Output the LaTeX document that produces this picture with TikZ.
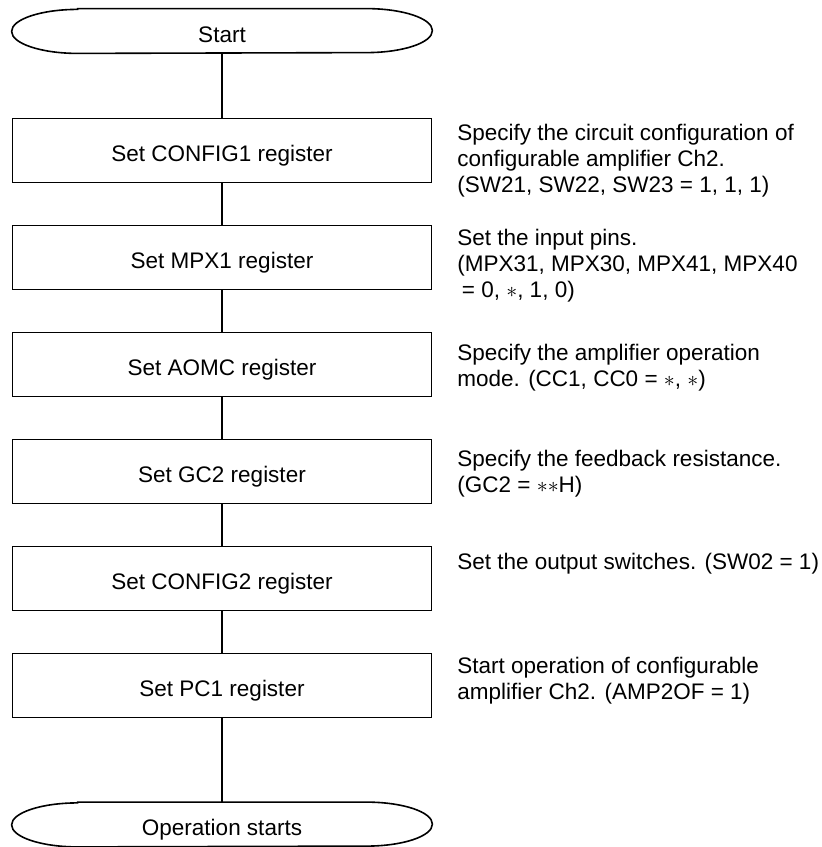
\documentclass[tikz,border=0pt]{standalone}
\usepackage{fontspec}
\setmainfont{Liberation Sans}
\begin{document}
\begin{tikzpicture}[x=0.5pt,y=-0.5pt,
  every node/.style={font=\fontsize{11.25pt}{13pt}\selectfont},
  flowline/.style={line width=0.8pt},
  steptext/.style={text height=11pt, text depth=0pt, inner sep=0pt},
  stepbox/.style={steptext, draw, line width=0.8pt, minimum width=209.5pt, minimum height=32pt},
  term/.style={steptext, minimum width=210pt, minimum height=22pt},
  note/.style={anchor=north west, align=left, inner sep=0pt},
  termoutline/.style={line width=0.8pt}]
\path[use as bounding box] (0,0) rectangle (821,847);

% terminals and process steps
\node[term] (start) at (222,31) {Start};
\node[stepbox] (cfg1) at (222,150.5) {Set CONFIG1 register};
\node[stepbox] (mpx1) at (222,257.5) {Set MPX1 register};
\node[stepbox] (aomc) at (222,364.5) {Set AOMC register};
\node[stepbox] (gc2)  at (222,471.5) {Set GC2 register};
\node[stepbox] (cfg2) at (222,578.5) {Set CONFIG2 register};
\node[stepbox] (pc1)  at (222,685.5) {Set PC1 register};
\node[term] (stop) at (222,824.5) {Operation starts};

% terminal outlines with elliptical end caps
\foreach \t in {start,stop}{
  \draw[termoutline] ([xshift=33pt]\t.north west) -- ([xshift=-33pt]\t.north east)
    arc[start angle=90, end angle=-90, x radius=33pt, y radius=11pt]
    -- ([xshift=33pt]\t.south west)
    arc[start angle=270, end angle=90, x radius=33pt, y radius=11pt] -- cycle;
}

% flow connectors
\draw[flowline] (start) -- (cfg1);
\draw[flowline] (cfg1) -- (mpx1);
\draw[flowline] (mpx1) -- (aomc);
\draw[flowline] (aomc) -- (gc2);
\draw[flowline] (gc2) -- (cfg2);
\draw[flowline] (cfg2) -- (pc1);
\draw[flowline] (pc1) -- (stop);

% explanatory notes
\node[note] (n1) at (457,123.5) {Specify the circuit configuration of\\configurable amplifier Ch2.\\(SW21, SW22, SW23 = 1, 1, 1)};
\node[note] (n2) at (457,228.5) {Set the input pins.\\(MPX31, MPX30, MPX41, MPX40\\\hspace*{0.2em}= 0, $\ast$, 1, 0)};
\node[note] (n3) at (457,343.5) {Specify the amplifier operation\\mode. (CC1, CC0 = $\ast$, $\ast$)};
\node[note] (n4) at (457,449.5) {Specify the feedback resistance.\\(GC2 = $\ast\ast$H)};
\node[note] (n5) at (457,552.5) {Set the output switches. (SW02 = 1)};
\node[note] (n6) at (457,656.5) {Start operation of configurable\\amplifier Ch2. (AMP2OF = 1)};
\end{tikzpicture}
\end{document}
